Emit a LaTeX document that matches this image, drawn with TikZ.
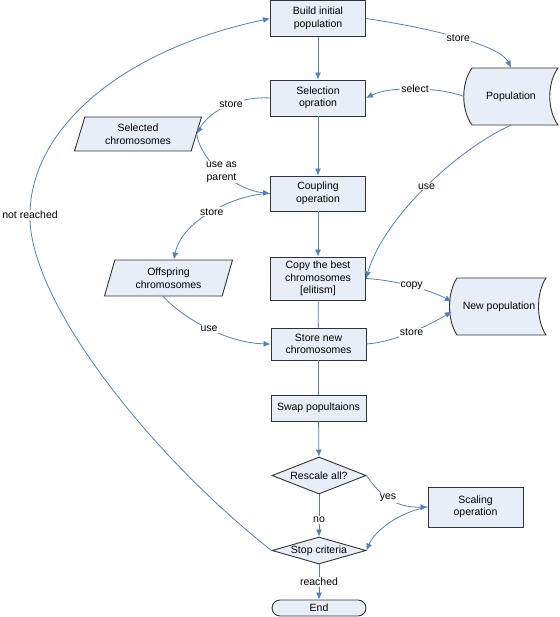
\documentclass[tikz,border=0pt]{standalone}
\usepackage{fontspec}
\setmainfont{Liberation Sans}
\usetikzlibrary{%
  arrows.meta,%
  shapes.geometric,%
  calc%
}
\definecolor{flowblue}{RGB}{79,129,189}
\definecolor{boxfill}{RGB}{232,238,247}
\tikzset{>={Latex[length=7pt,width=6pt]}}
\tikzset{every node/.style={font=\fontsize{10.5}{12.5}\selectfont},
  process/.style={draw=black!80, fill=boxfill, line width=0.9pt,
    align=center, minimum width=95, inner sep=1pt},
  data/.style={trapezium, trapezium left angle=65, trapezium right angle=115,
    trapezium stretches body=true, draw=black!80, fill=boxfill,
    line width=0.9pt, align=center, inner sep=1pt},
  decision/.style={diamond, draw=black!80, fill=boxfill, line width=0.9pt,
    minimum width=94, inner sep=0pt},
  terminal/.style={draw=black!80, fill=boxfill, line width=0.9pt,
    rounded corners=8pt, minimum width=94, minimum height=16, inner sep=0pt},
  storeline/.style={draw=black!80, fill=boxfill, line width=0.9pt},
  storebox/.style={minimum width=94, minimum height=57, inner sep=0pt},
  flow/.style={draw=flowblue, line width=0.8pt},
  lbl/.style={fill=white, inner sep=1pt}}

\begin{document}
\begin{tikzpicture}[x=1pt,y=-1pt]
          \useasboundingbox (0,0) rectangle (559,617);
          % main column
          \node[process, minimum height=36] (build) at (318,18.5) {Build initial\\population};
          \node[process, minimum height=36] (sel) at (318,98) {Selection\\opration};
          \node[process, minimum height=35] (coup) at (318,193.5) {Coupling\\operation};
          \node[process, minimum height=43] (copy) at (318,278.5) {Copy the best\\chromosomes\\{[elitism]}};
          \node[process, minimum height=32] (store) at (318.5,344) {Store new\\chromosomes};
          \node[process, minimum height=26] (swap) at (318.5,408) {Swap popultaions};
          \node[decision, minimum height=37, shape aspect=2.5] (rescale) at (319,475.5) {Rescale all?};
          \node[decision, minimum height=27, shape aspect=3.5] (stop) at (319,550.5) {Stop criteria};
          \node[terminal] (end) at (319,608) {End};
          \node[process, minimum height=40] (scal) at (475.5,507) {Scaling\\operation};
          % chromosome data
          \node[data, minimum width=127, minimum height=34] (selc) at (138,134) {Selected\\chromosomes};
          \node[data, minimum width=128, minimum height=36] (offs) at (168.5,278) {Offspring\\chromosomes};
          % stored populations
          \draw[storeline] (472,68) -- (558,68) .. controls +(-11,15) and +(-11,-15) .. (558,125)
          -- (472,125) .. controls +(-11,-15) and +(-11,15) .. cycle;
          \node[storebox] (pop) at (511,96.5) {Population};
          \draw[storeline] (457,278) -- (546,278) .. controls +(-10,15) and +(-10,-15) .. (546,335)
          -- (457,335) .. controls +(-10,-15) and +(-10,15) .. cycle;
          \node[storebox] (newpop) at (499,306.5) {New population};
          % straight flow
          \draw[flow,->] (build) -- (sel);
          \draw[flow,->] (sel) -- (coup);
          \draw[flow,->] (coup) -- (copy);
          \draw[flow] (copy) -- (store);
          \draw[flow] (store) -- (swap);
          \draw[flow,->] (swap) -- (rescale);
          \draw[flow,->] (rescale) -- (stop) node[lbl,pos=0.6] {no};
          \draw[flow,->] (stop) -- (end) node[lbl,midway] {reached};
          % curved connectors
          \draw[flow,->] (build.east) .. controls (430,28) and (500,45) .. (pop.north)
          node[lbl,pos=0.5] {store};
          \draw[flow,->] (pop.west) .. controls (440,87) and (390,86) .. (sel.east)
          node[lbl,pos=0.5] {select};
          \draw[flow,->] (pop.south) .. controls (460,148) and (385,215) .. (copy.east)
          node[lbl,pos=0.5] {use};
          \draw[flow,->] (sel.west) .. controls (240,96) and (210,110) .. (selc.right side)
          node[lbl,pos=0.45] {store};
          \draw[flow,->] (selc.right side) .. controls (200,160) and (235,190) .. (coup.west)
          node[lbl,pos=0.5,align=center] {use as\\parent};
          \draw[flow,->] (coup.west) .. controls (235,194) and (182,220) .. (offs.top side)
          node[lbl,pos=0.5] {store};
          \draw[flow,->] (offs.bottom side) .. controls (185,320) and (228,343) .. (store.west)
          node[lbl,pos=0.5] {use};
          \draw[flow,->] (copy.east) .. controls (395,280) and (430,290) .. (newpop.174)
          node[lbl,pos=0.5] {copy};
          \draw[flow,->] (store.east) .. controls (395,342) and (430,325) .. (newpop.186)
          node[lbl,pos=0.5] {store};
          \draw[flow,->] (rescale.east) .. controls (378,492) and (392,508) .. (scal.west)
          node[lbl,pos=0.5] {yes};
          \draw[flow,->] (scal.west) .. controls (400,512) and (375,530) .. (stop.east);
          \draw[flow,->] (stop.west) .. controls (150,455) and (28,300) .. (30,215)
          node[lbl] {not reached} .. controls (30,130) and (120,50) .. (build.west);
        \end{tikzpicture}
\end{document}
